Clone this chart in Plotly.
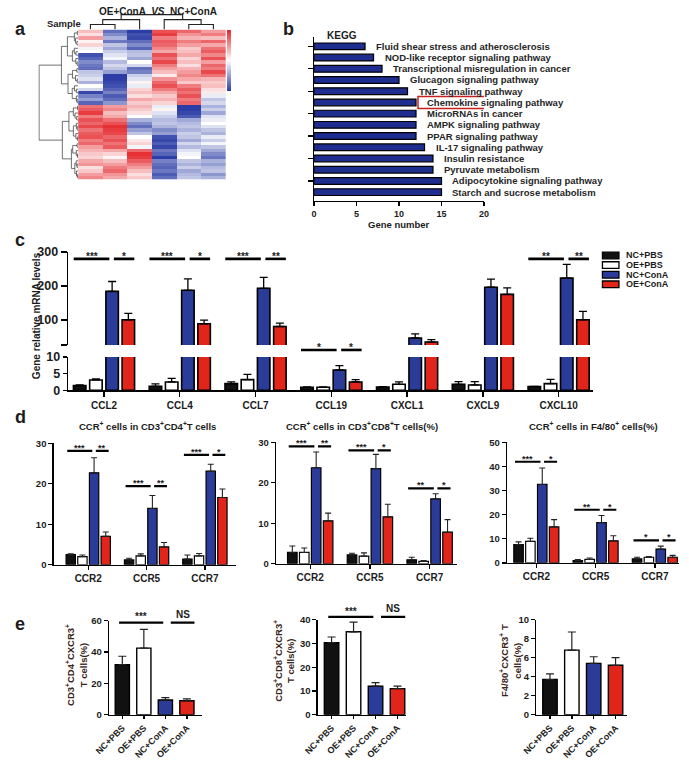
import numpy as np
import plotly.graph_objects as go

# ---------------------------------------------------------------- data
heat_samples = ["OE+ConA-1", "OE+ConA-2", "OE+ConA-3", "NC+ConA-1", "NC+ConA-2", "NC+ConA-3"]
heat_rows = [
    [0.6, -1.5, -2.0, 1.6, 1.4, 0.9],
    [0.3, -1.2, -1.8, 1.8, 1.0, 1.2],
    [0.9, -0.8, -1.9, 1.2, 0.7, 0.6],
    [0.1, -1.4, -1.5, 1.5, 1.2, 1.4],
    [0.4, -0.6, -1.2, 1.4, 0.9, 0.8],
    [-0.1, -0.9, -1.6, 1.1, 0.5, 1.3],
    [0.0, -0.5, -0.7, 0.8, 0.6, 1.5],
    [-1.8, -0.3, -0.6, 1.6, 0.8, 1.1],
    [-1.6, -0.1, -0.9, 1.3, 0.4, 1.6],
    [-1.2, -0.7, 0.0, 1.7, 0.6, 0.9],
    [-1.4, -0.4, -0.4, 1.2, 0.3, 1.4],
    [-1.5, -0.6, -1.5, 0.9, 0.7, 1.2],
    [-0.6, -1.0, -1.3, 0.6, 0.9, 1.7],
    [-0.5, -2.0, -0.5, 0.2, 1.1, 1.3],
    [-0.3, -2.0, -0.3, 1.0, 0.8, 0.7],
    [-0.8, -1.9, 0.1, 1.4, 0.5, 0.5],
    [0.0, -1.8, -0.2, 1.6, 1.2, 0.6],
    [-0.4, -1.6, 0.4, 1.2, 1.5, 0.3],
    [-1.9, -1.3, 0.6, 0.8, 1.3, 0.2],
    [-1.3, -1.7, 0.3, 0.5, 1.6, -0.2],
    [-1.0, -1.5, 0.8, 0.7, 1.2, -0.6],
    [-1.6, -1.1, 0.5, 0.4, 1.4, -0.4],
    [1.3, 0.9, 0.7, -0.2, -2.0, -0.8],
    [1.5, 1.1, 0.5, 0.1, -2.0, -0.5],
    [1.8, 0.6, 0.3, -0.3, -1.9, -0.9],
    [1.2, 0.8, 0.0, -0.5, -1.7, -0.3],
    [1.6, 1.3, -0.8, -0.7, -0.9, -0.2],
    [1.4, 1.6, -1.2, -0.6, -0.7, 0.0],
    [1.7, 1.9, -1.5, -0.8, -0.6, -0.3],
    [1.3, 1.8, -1.0, -1.2, -0.8, -0.6],
    [1.5, 1.7, -0.6, -1.0, -0.5, -0.8],
    [1.6, 1.4, 0.0, -1.8, -0.6, -0.2],
    [1.2, 1.6, 0.2, -1.9, -0.9, -0.5],
    [1.4, 1.3, 0.4, -1.7, -0.4, -0.1],
    [0.9, 1.5, -0.1, -1.9, -0.7, -0.6],
    [0.7, 0.8, 1.4, -1.4, -0.3, -0.9],
    [0.5, 0.4, 1.9, -1.6, -0.1, -1.2],
    [0.4, 0.1, 1.8, -2.0, 0.0, -1.4],
    [0.8, 0.6, 1.5, -1.3, -0.6, -0.8],
    [1.0, 0.9, 1.2, -1.5, -0.8, -1.0],
    [0.3, 1.2, 0.9, -1.6, -0.5, -0.7],
    [0.5, 1.4, 0.6, -1.4, -0.9, -0.6],
    [0.9, 1.0, 0.3, -1.7, -0.7, -1.1],
    [1.1, 0.8, 0.5, -1.5, -0.6, -0.8],
]
sample_tree = (((0, 1), 2), (3, (4, 5)))

kegg_terms = ["Fluid shear stress and atherosclerosis", "NOD-like receptor signaling pathway",
              "Transcriptional misregulation in cancer", "Glucagon signaling pathway",
              "TNF signaling pathway", "Chemokine signaling pathway", "MicroRNAs in cancer",
              "AMPK signaling pathway", "PPAR signaling pathway", "IL-17 signaling pathway",
              "Insulin resistance", "Pyruvate metabolism", "Adipocytokine signaling pathway",
              "Starch and sucrose metabolism"]
kegg_counts = [6, 7, 8, 10, 11, 12, 12, 12, 12, 13, 14, 14, 15, 15]
kegg_ticks = [0, 5, 10, 15, 20]
kegg_highlight = "Chemokine signaling pathway"

groups = ["NC+PBS", "OE+PBS", "NC+ConA", "OE+ConA"]

# panel c : relative mRNA levels
c_genes = ["CCL2", "CCL4", "CCL7", "CCL19", "CXCL1", "CXCL9", "CXCL10"]
c_nc_pbs = [1.4, 1.2, 2.0, 0.9, 1.0, 1.8, 1.1]
c_oe_pbs = [3.1, 2.5, 3.2, 0.9, 1.8, 1.6, 2.0]
c_nc_cona = [184, 187, 193, 6.1, 46, 196, 223]
c_oe_cona = [100, 88, 80, 2.5, 34, 175, 100]
c_nc_pbs_err = [0.2, 0.7, 0.5, 0.1, 0.1, 0.8, 0.1]
c_oe_pbs_err = [0.3, 1.1, 1.6, 0.1, 0.7, 1.0, 1.3]
c_nc_cona_err = [29, 34, 32, 1.3, 12, 24, 41]
c_oe_cona_err = [19, 11, 10, 0.7, 7, 19, 25]
c_y_ticks_low = [0, 5, 10]
c_y_ticks_high = [100, 200, 300]
c_sig_gene = ["CCL2", "CCL2", "CCL4", "CCL4", "CCL7", "CCL7", "CCL19", "CCL19", "CXCL10", "CXCL10"]
c_sig_pair = ["ctrl", "cona"] * 5
c_sig_text = ["***", "*", "***", "*", "***", "**", "*", "*", "**", "**"]
c_sig_y = [280, 280, 280, 280, 280, 280, 12.1, 12.1, 280, 280]

# panel d : CCR+ cells
d_receptors = ["CCR2", "CCR5", "CCR7"]
d_cd4_means = [[2.5, 1.2, 1.4], [2.0, 2.2, 2.2], [22.7, 13.9, 23.1], [7.0, 4.4, 16.6]]
d_cd4_errs = [[0.2, 0.4, 1.0], [0.4, 0.5, 0.6], [3.7, 3.2, 1.7], [1.1, 1.1, 2.1]]
d_cd4_sig_y = [28.1, 19.4, 27.1]
d_cd4_sig_text = [["***", "**"], ["***", "**"], ["***", "*"]]
d_cd8_means = [[2.8, 2.2, 1.0], [2.8, 1.9, 0.6], [23.7, 23.5, 16.0], [10.6, 11.6, 7.8]]
d_cd8_errs = [[1.6, 0.4, 0.6], [1.1, 0.8, 0.2], [3.9, 3.5, 1.3], [1.9, 3.1, 3.1]]
d_cd8_sig_y = [29.0, 28.0, 18.6]
d_cd8_sig_text = [["***", "**"], ["***", "*"], ["**", "*"]]
d_f480_means = [[7.6, 0.9, 1.6], [8.9, 1.4, 2.3], [32.5, 16.7, 5.7], [14.9, 9.1, 2.3]]
d_f480_errs = [[1.1, 0.5, 0.7], [1.3, 0.6, 0.3], [6.8, 2.9, 1.2], [3.0, 2.1, 0.8]]
d_f480_sig_y = [41.9, 22.0, 9.3]
d_f480_sig_text = [["***", "*"], ["**", "*"], ["*", "*"]]

# panel e : CXCR3+ cells
e_cd4_means = [31.9, 42.5, 9.4, 8.9]
e_cd4_errs = [5.4, 11.9, 1.5, 1.2]
e_cd8_means = [30.3, 34.9, 12.0, 11.0]
e_cd8_errs = [2.4, 4.1, 1.5, 1.0]
e_f480_means = [3.7, 6.8, 5.4, 5.2]
e_f480_errs = [0.6, 1.9, 0.7, 0.8]
e_sig_pairs = [("NC+PBS", "NC+ConA", "***"), ("NC+ConA", "OE+ConA", "NS")]
e_cd4_sig_y = 58.7
e_cd8_sig_y = 41.2

# ---------------------------------------------------------------- helpers
W, H = 689, 760
FONT = "Liberation Sans, Arial, Helvetica, sans-serif"
INK = "#1c1c1c"
TITLE_BROWN = "#3a2418"
GROUP_FILL = ["#111111", "#ffffff", "#2b3b98", "#e1251b"]


def dx(a, b):
    return [a / W, b / W]


def dy(top, bot):
    return [1 - bot / H, 1 - top / H]


def font(size, color=INK, bold=True):
    d = dict(family=FONT, size=size, color=color)
    if bold:
        d["weight"] = "bold"
    return d


fig = go.Figure()
layout = {}
shapes = []
annotations = []


def ann(text, x, y, size, xref="paper", yref="paper", color=INK, bold=True, **kw):
    a = dict(text=text, x=x, y=y, xref=xref, yref=yref, showarrow=False,
             xanchor="center", yanchor="middle", font=font(size, color, bold))
    a.update(kw)
    annotations.append(a)


def pann(text, px, py, size, **kw):
    ann(text, px / W, 1 - py / H, size, **kw)


def axis(**kw):
    base = dict(showline=True, linecolor="black", linewidth=1.5, ticks="outside", ticklen=4,
                tickwidth=1.4, tickcolor="black", showgrid=False, zeroline=False,
                fixedrange=True, tickfont=font(10))
    base.update(kw)
    return base


def hidden(**kw):
    base = dict(visible=False, showgrid=False, zeroline=False, fixedrange=True)
    base.update(kw)
    return base


def sig(xref, yname, lo, hi, x0, x1, yv, label, lw, fs, gap):
    f = (yv - lo) / (hi - lo)
    shapes.append(dict(type="line", xref=xref, yref=f"{yname} domain", x0=x0, x1=x1,
                       y0=f, y1=f, line=dict(color="black", width=lw)))
    shift = gap - (0.23 * fs if "*" in label else 0)
    annotations.append(dict(text=label, x=(x0 + x1) / 2, y=f, xref=xref,
                            yref=f"{yname} domain", showarrow=False, xanchor="center",
                            yanchor="middle", yshift=shift, font=font(fs)))


# ---------------------------------------------------------------- panel a
Z = np.array(heat_rows, dtype=float)
nrow, ncol = Z.shape
fig.add_trace(go.Heatmap(
    z=Z, x=list(range(ncol)), y=list(range(nrow)), zmin=-2, zmax=2,
    colorscale=[[0, "#2c3ea6"], [0.5, "#ffffff"], [1, "#e4262b"]],
    xaxis="x", yaxis="y", hoverinfo="skip",
    colorbar=dict(thickness=4, thicknessmode="pixels", len=61, lenmode="pixels",
                  x=218 / W, xanchor="left", xpad=0, y=1 - 23 / H, yanchor="top", ypad=0,
                  outlinewidth=0, showticklabels=False, ticks="")))
layout["xaxis"] = hidden(domain=dx(65, 217), anchor="y", range=[-0.5, ncol - 0.5])
layout["yaxis"] = hidden(domain=dy(23, 176), anchor="x", range=[nrow - 0.5, -0.5])

rx, ry = [], []


def build_rows(lo, hi):
    if hi - lo == 1:
        return float(lo), 0.0, Z[lo], 1
    mid = (lo + hi) // 2
    pl, hl, cl, nl = build_rows(lo, mid)
    pr, hr, cr, nr = build_rows(mid, hi)
    h = max(hl, hr) + np.sqrt(2 * nl * nr / (nl + nr)) * np.linalg.norm(cl - cr)
    rx.extend([hl, h, h, hr, None])
    ry.extend([pl, pl, pr, pr, None])
    return (pl + pr) / 2, h, (cl * nl + cr * nr) / (nl + nr), nl + nr


_, root_h, _, _ = build_rows(0, nrow)
fig.add_trace(go.Scatter(x=rx, y=ry, mode="lines", line=dict(color="#333333", width=0.7),
                         xaxis="x2", yaxis="y2", hoverinfo="skip"))
layout["xaxis2"] = hidden(domain=dx(24, 65), anchor="y2", range=[root_h * 1.02, 0])
layout["yaxis2"] = hidden(domain=dy(23, 176), anchor="x2", range=[nrow - 0.5, -0.5])

tx, ty = [], []


def build_cols(node):
    if isinstance(node, int):
        return float(node), 0.0
    pl, hl = build_cols(node[0])
    pr, hr = build_cols(node[1])
    h = max(hl, hr) + 1
    tx.extend([pl, pl, pr, pr, None])
    ty.extend([hl, h, h, hr, None])
    return (pl + pr) / 2, h


_, col_h = build_cols(sample_tree)
fig.add_trace(go.Scatter(x=tx, y=ty, mode="lines", line=dict(color="#222222", width=1.1),
                         xaxis="x3", yaxis="y3", hoverinfo="skip"))
layout["xaxis3"] = hidden(domain=dx(65, 217), anchor="y3", range=[-0.5, ncol - 0.5])
layout["yaxis3"] = hidden(domain=dy(7, 23), anchor="x3", range=[0, col_h * 1.05])

pann("a", 6, 22, 18)
pann("Sample", 50, 17, 9.5)
pann("OE+ConA  <i>VS</i>  NC+ConA", 147, 5, 10)

# ---------------------------------------------------------------- panel b
fig.add_trace(go.Bar(x=kegg_counts, y=kegg_terms, orientation="h", width=0.6,
                     marker=dict(color="#1f2d8f", line=dict(color="black", width=1.2)),
                     xaxis="x4", yaxis="y4", hoverinfo="skip"))
layout["xaxis4"] = axis(domain=dx(308, 483), anchor="y4", range=[0, 20], tickvals=kegg_ticks,
                        tickfont=font(9), linewidth=1.3)
layout["yaxis4"] = axis(domain=dy(31, 198), anchor="x4", type="category",
                        range=[len(kegg_terms) - 0.2, -0.8], showticklabels=False,
                        ticklen=5, tickwidth=1.2, linewidth=1.3)
for term, cnt in zip(kegg_terms, kegg_counts):
    ann(term, cnt, term, 9.5, xref="x4", yref="y4", xanchor="left", xshift=9, color="#262626")
hi_idx = kegg_terms.index(kegg_highlight)
shapes.append(dict(type="rect", xref="x4", yref="y4", xsizemode="pixel",
                   xanchor=kegg_counts[hi_idx], x0=2, x1=148, ysizemode="pixel",
                   yanchor=hi_idx, y0=-6, y1=6, line=dict(color="#c8201e", width=1.5)))
pann("b", 282, 22, 18)
pann("KEGG", 337, 29, 10)
pann("Gene number", 395, 222, 9.5)

# ---------------------------------------------------------------- panel c
c_means = [c_nc_pbs, c_oe_pbs, c_nc_cona, c_oe_cona]
c_errs = [c_nc_pbs_err, c_oe_pbs_err, c_nc_cona_err, c_oe_cona_err]
ng = len(c_genes)
C_STEP, C_W = 0.214, 0.165
C_LO = (0, 10)
C_HI = (25, 301)
for k in range(4):
    off = (k - 1.5) * C_STEP - C_W / 2
    for ya in ("y5", "y6"):
        fig.add_trace(go.Bar(
            x=c_genes, y=c_means[k], width=C_W, offset=off,
            marker=dict(color=GROUP_FILL[k], line=dict(color="black", width=1.6)),
            error_y=dict(type="data", array=c_errs[k], arrayminus=[0] * ng, symmetric=False,
                         color="black", thickness=1.3, width=4),
            xaxis="x5", yaxis=ya, hoverinfo="skip"))
layout["xaxis5"] = axis(domain=dx(55, 595), anchor="y5", type="category",
                        range=[-0.47, ng - 0.55], tickfont=font(10), linewidth=1.8, ticklen=5)
layout["yaxis5"] = axis(domain=dy(357, 391), anchor="x5", range=list(C_LO),
                        tickvals=c_y_ticks_low, tickfont=font(12.5), linewidth=1.8)
layout["yaxis6"] = axis(domain=dy(249.7, 344.9), anchor="x5", range=list(C_HI),
                        tickvals=[C_HI[0]] + c_y_ticks_high,
                        ticktext=[""] + [str(v) for v in c_y_ticks_high],
                        tickfont=font(12.5), linewidth=1.8, ticklen=6, tickwidth=2)
C_SPAN = {"ctrl": (-0.40, 0.07), "cona": (0.13, 0.40)}
for gene, pair, label, yv in zip(c_sig_gene, c_sig_pair, c_sig_text, c_sig_y):
    gi = c_genes.index(gene)
    a, b = C_SPAN[pair]
    if yv <= C_HI[0]:
        yname, lo, hi = "y5", C_LO[0], C_LO[1]
    else:
        yname, lo, hi = "y6", C_HI[0], C_HI[1]
    sig("x5", yname, lo, hi, gi + a, gi + b, yv, label, 2.6, 10, 5)

for k, g in enumerate(groups):
    yc = 253.5 + 9.8 * k
    shapes.append(dict(type="rect", xref="paper", yref="paper", x0=605 / W, x1=622 / W,
                       y0=1 - (yc + 3.4) / H, y1=1 - (yc - 3.4) / H,
                       fillcolor=GROUP_FILL[k], line=dict(color="black", width=1.3)))
    pann(g, 627, yc, 9, xanchor="left")
pann("c", 5, 238, 18)
pann("Gene relative mRNA levels", 22, 315, 10, textangle=-90)

# ---------------------------------------------------------------- panel d
d_panels = [
    ("x6", "y7", dx(40, 228), dy(445, 569), [-0.59, 2.54], 30, [0, 10, 20, 30],
     d_cd4_means, d_cd4_errs, d_cd4_sig_y, d_cd4_sig_text,
     "CCR<sup>+</sup> cells in CD3<sup>+</sup>CD4<sup>+</sup>T cells", 136),
    ("x7", "y8", dx(269, 455), dy(444, 568), [-0.57, 2.455], 30, [0, 10, 20, 30],
     d_cd8_means, d_cd8_errs, d_cd8_sig_y, d_cd8_sig_text,
     "CCR<sup>+</sup> cells in CD3<sup>+</sup>CD8<sup>+</sup>T cells(%)", 357),
    ("x8", "y9", dx(507, 684), dy(444, 567), [-0.49, 2.41], 50, [0, 10, 20, 30, 40, 50],
     d_f480_means, d_f480_errs, d_f480_sig_y, d_f480_sig_text,
     "CCR<sup>+</sup> cells in F4/80<sup>+</sup> cells(%)", 596),
]
D_STEP, D_W = 0.2, 0.16
D_SPAN = [(-0.36, 0.07), (0.13, 0.35)]
nr_ = len(d_receptors)
for xa, ya, xd, yd, xr, ymax, yt, means, errs, sy, stext, title, tx_c in d_panels:
    for k in range(4):
        fig.add_trace(go.Bar(
            x=d_receptors, y=means[k], width=D_W, offset=(k - 1.5) * D_STEP - D_W / 2,
            marker=dict(color=GROUP_FILL[k], line=dict(color="black", width=1.2)),
            error_y=dict(type="data", array=errs[k], arrayminus=[0] * nr_, symmetric=False,
                         color="#222222", thickness=1.1, width=3),
            xaxis=xa, yaxis=ya, hoverinfo="skip"))
    layout["xaxis" + xa[1:]] = axis(domain=xd, anchor=ya, type="category", range=xr,
                                   tickfont=font(10))
    layout["yaxis" + ya[1:]] = axis(domain=yd, anchor=xa, range=[0, ymax], tickvals=yt,
                                   tickfont=font(9.5))
    for ri, rec in enumerate(d_receptors):
        for (a, b), label in zip(D_SPAN, stext[ri]):
            sig(xa, ya, 0, ymax, ri + a, ri + b, sy[ri], label, 2.2, 9, 5)
    pann(title, tx_c, 427, 9.5)
pann("d", 6, 418, 18)

# ---------------------------------------------------------------- panel e
e_panels = [
    ("x9", "y10", dx(97, 193), dy(626, 722), [-0.61, 3.72], 60, [0, 20, 40, 60],
     e_cd4_means, e_cd4_errs, e_cd4_sig_y,
     "CD3<sup>+</sup>CD4<sup>+</sup>CXCR3<sup>+</sup><br>T cells(%)", 63, 671),
    ("x10", "y11", dx(312, 403), dy(625, 722), [-0.62, 3.4], 40, [0, 10, 20, 30, 40],
     e_cd8_means, e_cd8_errs, e_cd8_sig_y,
     "CD3<sup>+</sup>CD8<sup>+</sup>CXCR3<sup>+</sup><br>T cells(%)", 277, 667),
    ("x11", "y12", dx(537, 630), dy(625, 722), [-0.62, 3.51], 10, [0, 2, 4, 6, 8, 10],
     e_f480_means, e_f480_errs, None,
     "F4/80<sup>+</sup>CXCR3<sup>+</sup> T<br>cells(%)", 510, 667),
]
E_W = 0.66
E_PAD = {"***": (-0.15, -0.1), "NS": (0.25, 0.35)}
for xa, ya, xd, yd, xr, ymax, yt, means, errs, sy, title, tx_c, ty_c in e_panels:
    fig.add_trace(go.Bar(
        x=groups, y=means, width=E_W,
        marker=dict(color=GROUP_FILL, line=dict(color="black", width=1.4)),
        error_y=dict(type="data", array=errs, arrayminus=[0] * len(groups), symmetric=False,
                     color="#222222", thickness=1.2, width=4),
        xaxis=xa, yaxis=ya, hoverinfo="skip"))
    layout["xaxis" + xa[1:]] = axis(domain=xd, anchor=ya, type="category", range=xr,
                                   tickangle=-45, tickfont=font(9), ticklen=3)
    layout["yaxis" + ya[1:]] = axis(domain=yd, anchor=xa, range=[0, ymax], tickvals=yt,
                                   tickfont=font(9.5))
    if sy is not None:
        for g0, g1, label in e_sig_pairs:
            p0, p1 = E_PAD[label]
            sig(xa, ya, 0, ymax, groups.index(g0) + p0, groups.index(g1) + p1, sy, label,
                2.2, 10, 8)
    pann(title, tx_c, ty_c, 9.5, textangle=-90, color=TITLE_BROWN)
pann("e", 5, 629, 18)

fig.update_layout(width=W, height=H, margin=dict(l=0, r=0, t=0, b=0),
                  paper_bgcolor="white", plot_bgcolor="white", showlegend=False,
                  barmode="overlay", shapes=shapes, annotations=annotations, **layout)
fig.write_html("out.html", config={"displayModeBar": False, "staticPlot": True},
               post_script="document.body.style.margin='0px';"
                           "document.body.style.overflow='hidden';"
                           "document.documentElement.style.overflow='hidden';")
